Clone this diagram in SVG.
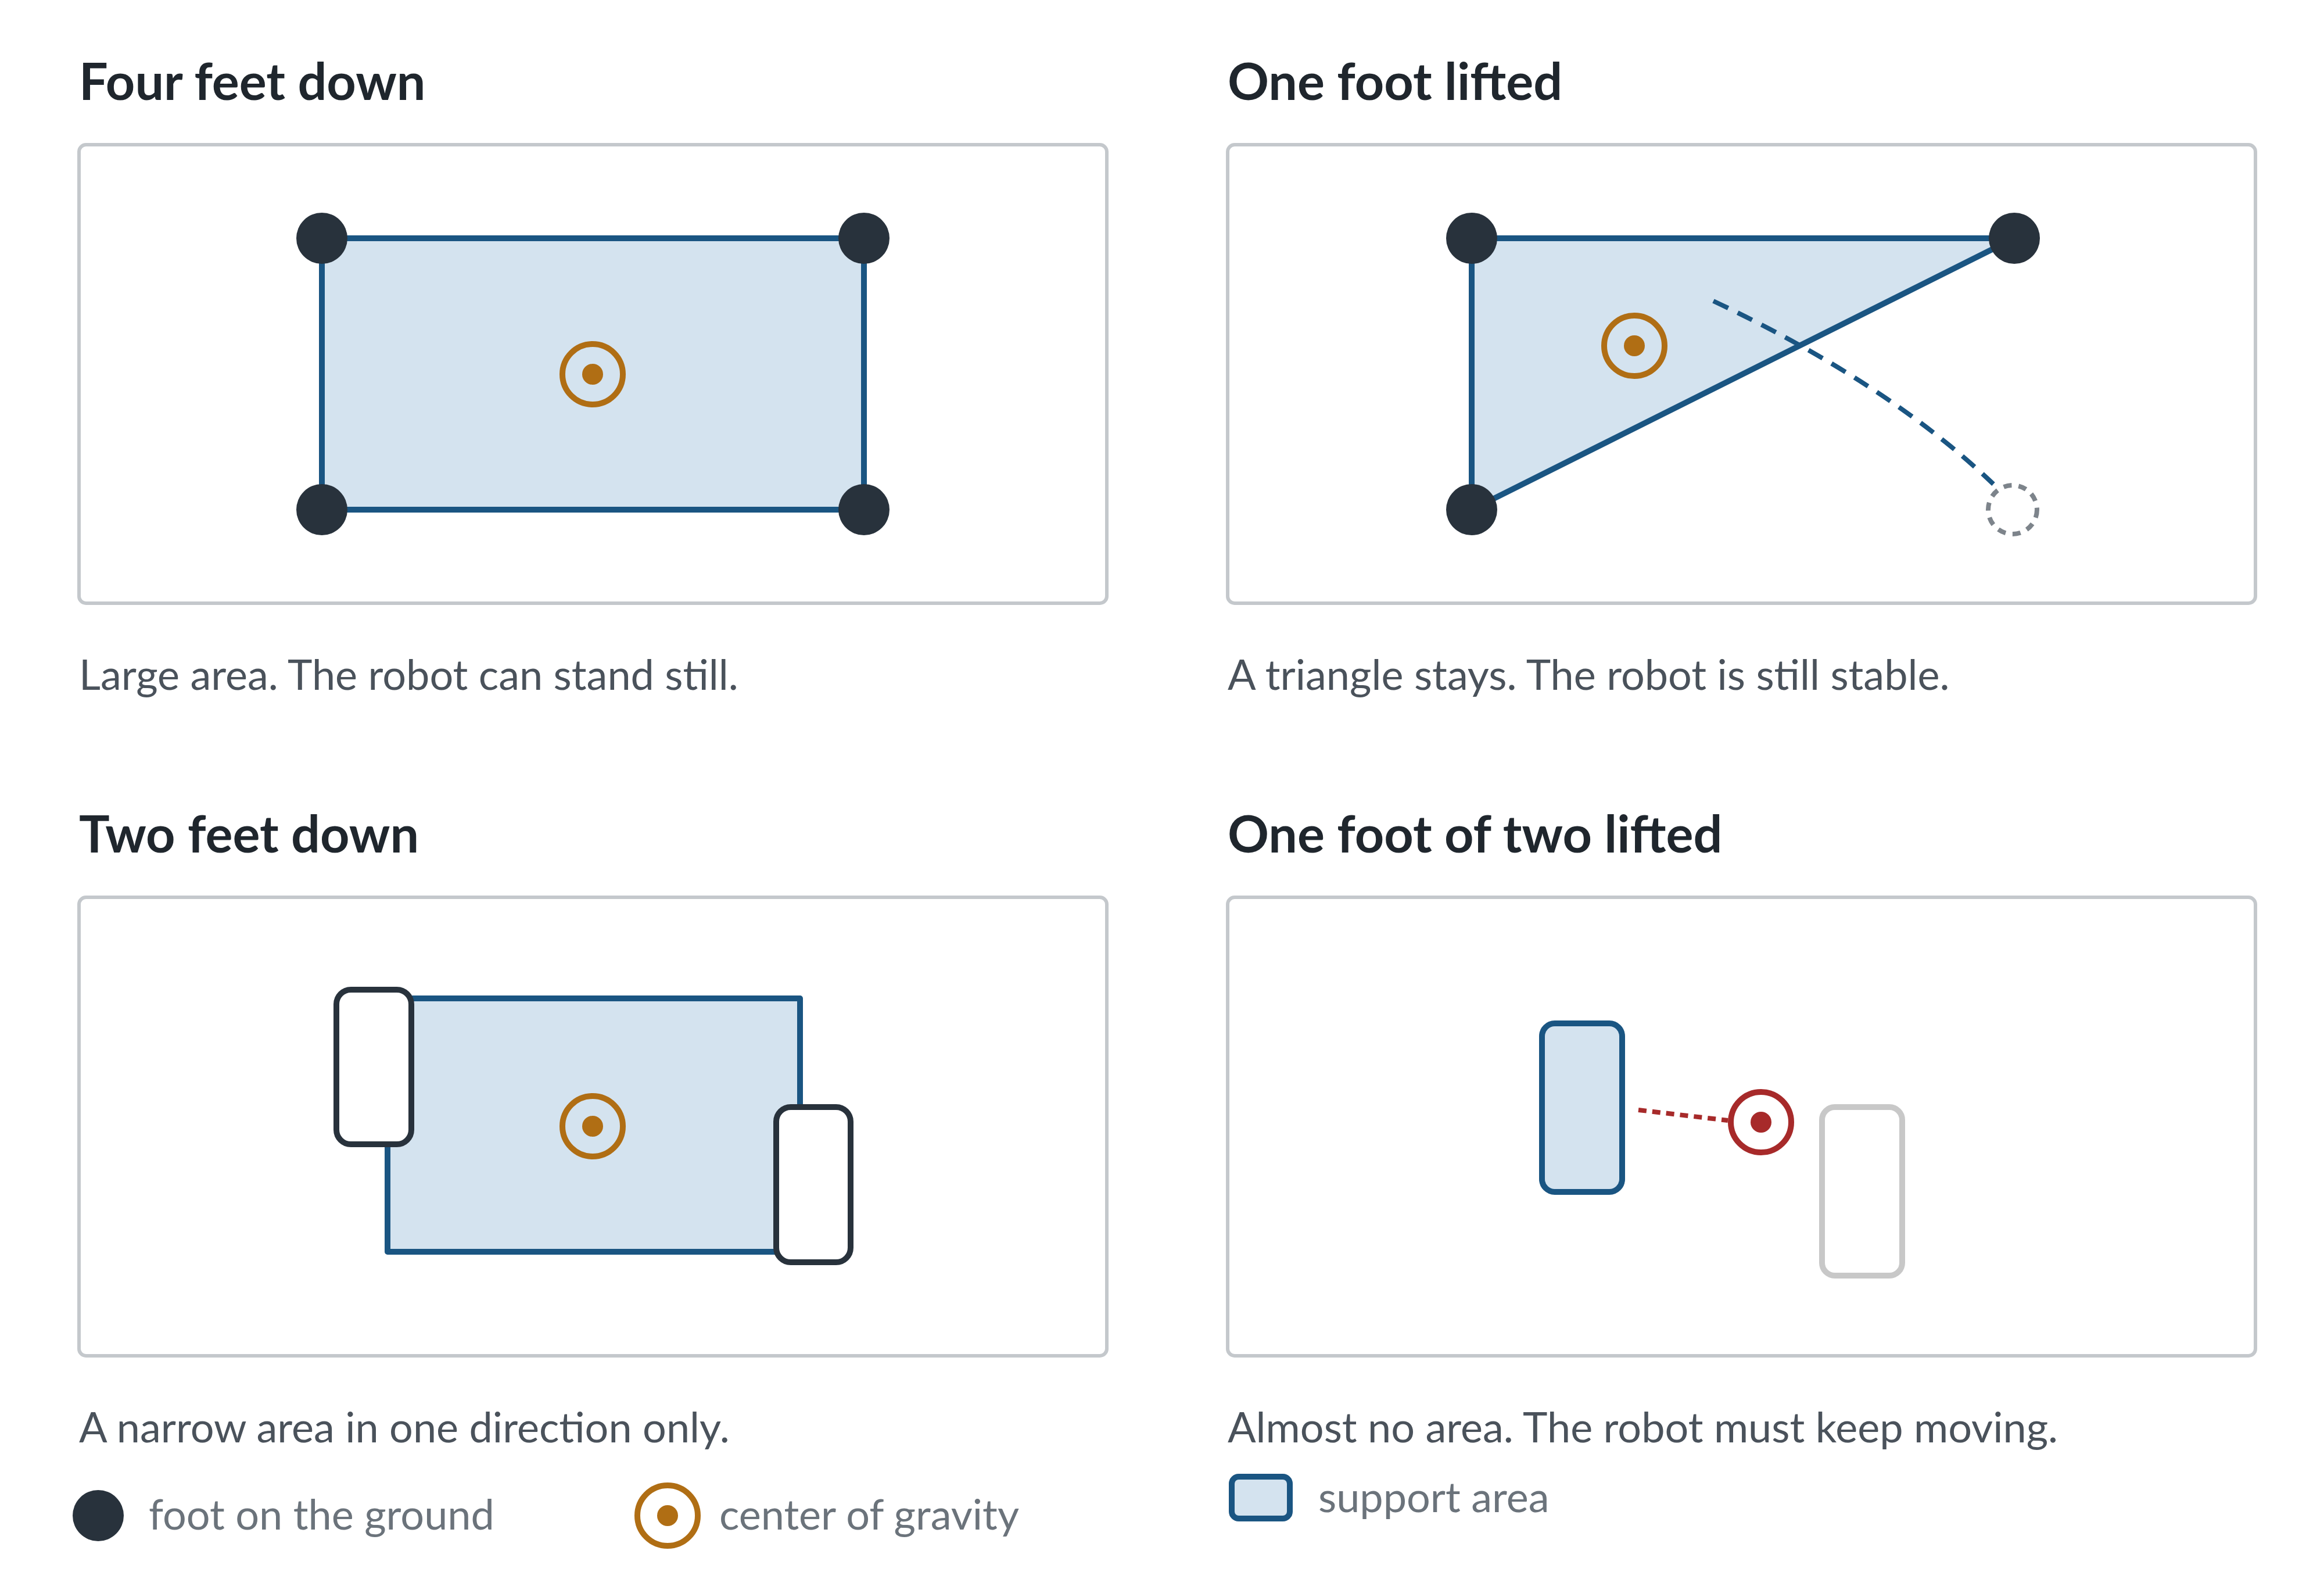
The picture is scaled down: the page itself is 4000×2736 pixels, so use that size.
<svg xmlns="http://www.w3.org/2000/svg" width="4000" height="2736" viewBox="0 0 4000 2736">
<style>
.t{font-family:Lato,"Open Sans","Liberation Sans",sans-serif;font-weight:700;font-size:88px;fill:#1f262d}
.c{font-family:Lato,"Open Sans","Liberation Sans",sans-serif;font-size:72px;fill:#4a525b}
.l{font-family:Lato,"Open Sans","Liberation Sans",sans-serif;font-size:72px;fill:#6b737b}
.p{fill:#fff;stroke:#c4c8cc;stroke-width:6}
.a{fill:#d4e3ef;stroke:#1a5582;stroke-width:10;stroke-linejoin:round}
.f{fill:#28323c}
.g1{fill:none;stroke:#b06e14;stroke-width:10}
.g2{fill:#b06e14}
</style>
<rect width="4000" height="2736" fill="#fff"/>
<g id="panel1">
<text class="t" x="136" y="172">Four feet down</text>
<rect class="p" x="136" y="249" width="1769" height="789" rx="12"/>
<rect class="a" x="554" y="410" width="933" height="467"/>
<circle class="f" cx="554" cy="410" r="44"/><circle class="f" cx="1487" cy="410" r="44"/>
<circle class="f" cx="554" cy="877" r="44"/><circle class="f" cx="1487" cy="877" r="44"/>
<circle class="g1" cx="1020" cy="644" r="52"/><circle class="g2" cx="1020" cy="644" r="18"/>
<text class="c" x="136" y="1187">Large area. The robot can stand still.</text>
</g>
<g id="panel2">
<text class="t" x="2113" y="172">One foot lifted</text>
<rect class="p" x="2113" y="249" width="1769" height="789" rx="12"/>
<polygon class="a" points="2533,410 3467,410 2533,877"/>
<path d="M2949,518 Q3250,660 3431,833" fill="none" stroke="#1a5582" stroke-width="8" stroke-dasharray="28,18"/>
<circle cx="3464" cy="877" r="42" fill="none" stroke="#7d848b" stroke-width="8" stroke-dasharray="14,12"/>
<circle class="f" cx="2533" cy="410" r="44"/><circle class="f" cx="3467" cy="410" r="44"/><circle class="f" cx="2533" cy="877" r="44"/>
<circle class="g1" cx="2813" cy="595" r="52"/><circle class="g2" cx="2813" cy="595" r="18"/>
<text class="c" x="2113" y="1187">A triangle stays. The robot is still stable.</text>
</g>
<g id="panel3">
<text class="t" x="136" y="1467">Two feet down</text>
<rect class="p" x="136" y="1544" width="1769" height="789" rx="12"/>
<rect class="a" x="667" y="1718" width="710" height="436" stroke-linejoin="miter"/>
<rect x="579" y="1703" width="129" height="266" rx="25" fill="#fff" stroke="#28323c" stroke-width="10"/>
<rect x="1336" y="1905" width="128" height="267" rx="25" fill="#fff" stroke="#28323c" stroke-width="10"/>
<circle class="g1" cx="1020" cy="1938" r="52"/><circle class="g2" cx="1020" cy="1938" r="18"/>
<text class="c" x="136" y="2482">A narrow area in one direction only.</text>
</g>
<g id="panel4">
<text class="t" x="2113" y="1467">One foot of two lifted</text>
<rect class="p" x="2113" y="1544" width="1769" height="789" rx="12"/>
<rect class="a" x="2654" y="1761" width="138" height="290" rx="22"/>
<rect x="3136" y="1905" width="138" height="290" rx="22" fill="#fff" stroke="#c8c8c8" stroke-width="10"/>
<line x1="2820" y1="1910" x2="2974" y2="1928" stroke="#a72a2a" stroke-width="8" stroke-dasharray="14,10"/>
<circle cx="3031" cy="1931" r="52" fill="none" stroke="#a72a2a" stroke-width="10"/><circle cx="3031" cy="1931" r="18" fill="#a72a2a"/>
<text class="c" x="2113" y="2482">Almost no area. The robot must keep moving.</text>
</g>
<g id="legend">
<circle class="f" cx="169" cy="2608" r="44"/>
<text class="l" x="256" y="2632">foot on the ground</text>
<circle class="g1" cx="1149" cy="2608" r="52"/><circle class="g2" cx="1149" cy="2608" r="18"/>
<text class="l" x="1238" y="2632">center of gravity</text>
<rect class="a" x="2120" y="2541" width="100" height="72" rx="12" stroke-width="8"/>
<text class="l" x="2269" y="2602">support area</text>
</g>
<g id="connectors"/>
</svg>
